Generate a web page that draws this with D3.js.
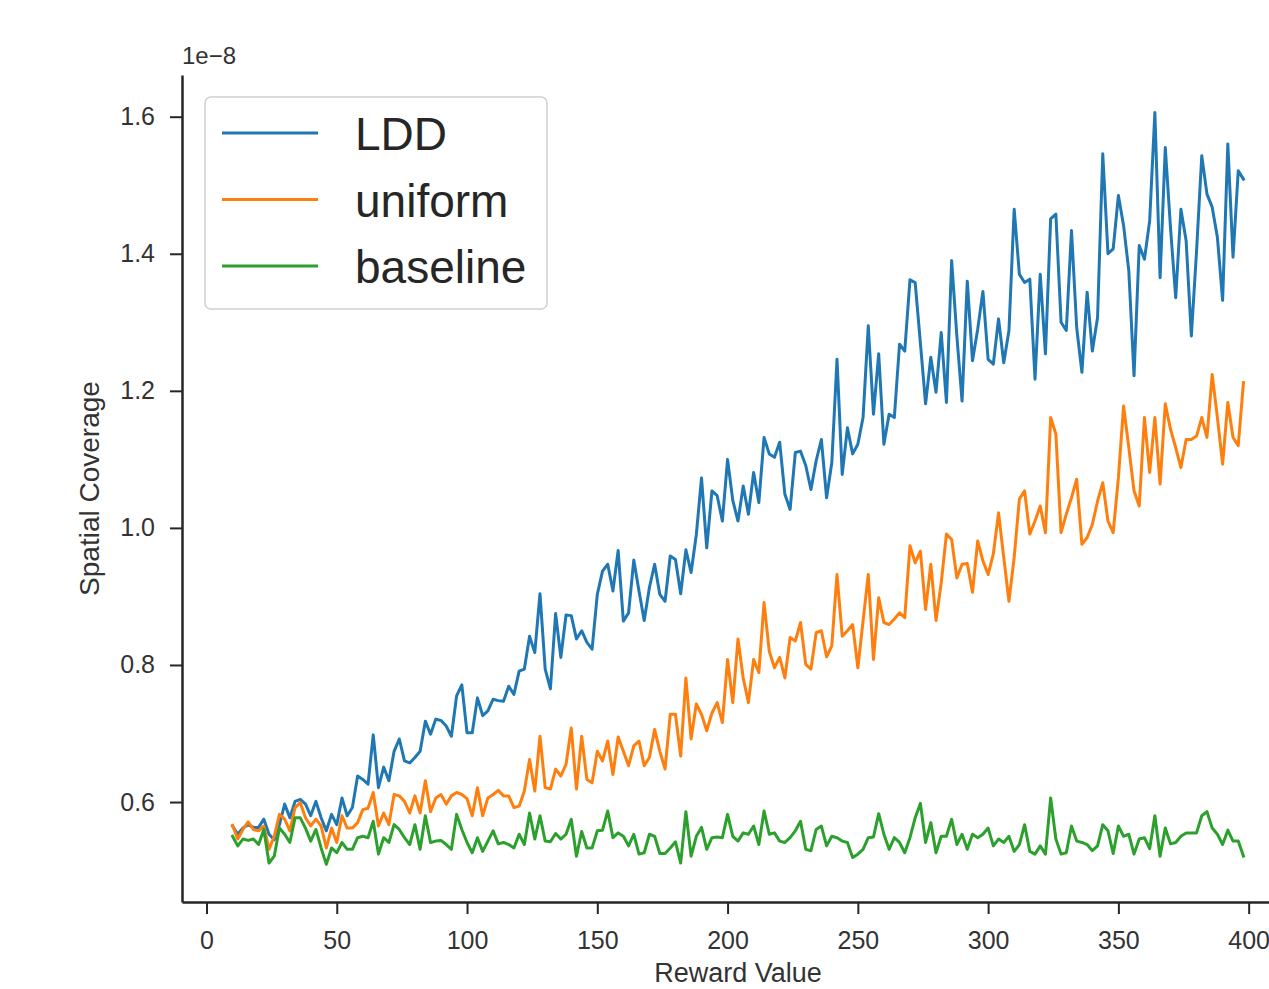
<!DOCTYPE html>
<html>
<head>
<meta charset="utf-8">
<script src="https://cdn.jsdelivr.net/npm/d3@7"></script>
<style>
  html, body { margin: 0; padding: 0; background: #fff; overflow: hidden; }
  svg { display: block; font-family: "Liberation Sans", Arial, sans-serif; }
</style>
</head>
<body>
<svg id="chart"></svg>
<script>
// reward values on the x axis (every 2 from 10 to 398)
const rewardValues = [
  10, 12, 14, 16, 18, 20, 22, 24, 26, 28,
  30, 32, 34, 36, 38, 40, 42, 44, 46, 48,
  50, 52, 54, 56, 58, 60, 62, 64, 66, 68,
  70, 72, 74, 76, 78, 80, 82, 84, 86, 88,
  90, 92, 94, 96, 98, 100, 102, 104, 106, 108,
  110, 112, 114, 116, 118, 120, 122, 124, 126, 128,
  130, 132, 134, 136, 138, 140, 142, 144, 146, 148,
  150, 152, 154, 156, 158, 160, 162, 164, 166, 168,
  170, 172, 174, 176, 178, 180, 182, 184, 186, 188,
  190, 192, 194, 196, 198, 200, 202, 204, 206, 208,
  210, 212, 214, 216, 218, 220, 222, 224, 226, 228,
  230, 232, 234, 236, 238, 240, 242, 244, 246, 248,
  250, 252, 254, 256, 258, 260, 262, 264, 266, 268,
  270, 272, 274, 276, 278, 280, 282, 284, 286, 288,
  290, 292, 294, 296, 298, 300, 302, 304, 306, 308,
  310, 312, 314, 316, 318, 320, 322, 324, 326, 328,
  330, 332, 334, 336, 338, 340, 342, 344, 346, 348,
  350, 352, 354, 356, 358, 360, 362, 364, 366, 368,
  370, 372, 374, 376, 378, 380, 382, 384, 386, 388,
  390, 392, 394, 396, 398
];

// spatial coverage, in units of 1e-8
const lddValues = [
  0.565, 0.553, 0.562, 0.567, 0.563, 0.563, 0.575, 0.553, 0.545, 0.567,
  0.597, 0.577, 0.601, 0.604, 0.597, 0.580, 0.601, 0.577, 0.558, 0.582,
  0.567, 0.606, 0.580, 0.592, 0.638, 0.633, 0.626, 0.698, 0.621, 0.651,
  0.631, 0.674, 0.692, 0.660, 0.657, 0.665, 0.674, 0.718, 0.699, 0.721,
  0.719, 0.711, 0.696, 0.755, 0.771, 0.701, 0.701, 0.752, 0.726, 0.733,
  0.750, 0.748, 0.747, 0.769, 0.757, 0.791, 0.794, 0.842, 0.818, 0.904,
  0.794, 0.765, 0.875, 0.811, 0.873, 0.872, 0.838, 0.850, 0.833, 0.823,
  0.903, 0.937, 0.947, 0.908, 0.967, 0.864, 0.876, 0.953, 0.908, 0.865,
  0.913, 0.947, 0.903, 0.893, 0.959, 0.954, 0.904, 0.968, 0.935, 0.990,
  1.073, 0.971, 1.054, 1.047, 1.010, 1.100, 1.040, 1.010, 1.061, 1.020,
  1.081, 1.037, 1.132, 1.108, 1.103, 1.125, 1.049, 1.027, 1.110, 1.112,
  1.091, 1.056, 1.098, 1.129, 1.044, 1.095, 1.246, 1.078, 1.146, 1.108,
  1.122, 1.161, 1.295, 1.166, 1.254, 1.122, 1.166, 1.161, 1.268, 1.258,
  1.362, 1.358, 1.270, 1.181, 1.249, 1.198, 1.285, 1.183, 1.390, 1.280,
  1.185, 1.360, 1.244, 1.290, 1.345, 1.246, 1.239, 1.305, 1.241, 1.288,
  1.465, 1.370, 1.358, 1.363, 1.217, 1.370, 1.254, 1.451, 1.458, 1.300,
  1.288, 1.434, 1.292, 1.227, 1.344, 1.258, 1.307, 1.546, 1.400, 1.407,
  1.485, 1.441, 1.375, 1.222, 1.412, 1.392, 1.448, 1.606, 1.365, 1.555,
  1.438, 1.336, 1.465, 1.419, 1.280, 1.404, 1.543, 1.487, 1.468, 1.424,
  1.332, 1.560, 1.395, 1.521, 1.509
];

const uniformValues = [
  0.566, 0.546, 0.560, 0.571, 0.560, 0.558, 0.565, 0.531, 0.550, 0.582,
  0.575, 0.558, 0.592, 0.599, 0.577, 0.565, 0.575, 0.565, 0.533, 0.562,
  0.541, 0.580, 0.562, 0.562, 0.570, 0.589, 0.591, 0.614, 0.565, 0.584,
  0.567, 0.611, 0.609, 0.601, 0.584, 0.609, 0.584, 0.631, 0.586, 0.606,
  0.611, 0.597, 0.609, 0.614, 0.611, 0.605, 0.580, 0.621, 0.580, 0.606,
  0.611, 0.617, 0.609, 0.609, 0.592, 0.594, 0.616, 0.662, 0.616, 0.696,
  0.621, 0.619, 0.648, 0.638, 0.655, 0.708, 0.619, 0.696, 0.633, 0.628,
  0.674, 0.660, 0.689, 0.640, 0.695, 0.674, 0.653, 0.682, 0.689, 0.653,
  0.665, 0.706, 0.674, 0.648, 0.728, 0.728, 0.667, 0.781, 0.692, 0.743,
  0.728, 0.704, 0.730, 0.745, 0.716, 0.808, 0.745, 0.838, 0.781, 0.745,
  0.808, 0.789, 0.891, 0.820, 0.796, 0.811, 0.781, 0.840, 0.835, 0.862,
  0.801, 0.794, 0.847, 0.850, 0.812, 0.828, 0.932, 0.842, 0.850, 0.859,
  0.796, 0.864, 0.932, 0.808, 0.898, 0.862, 0.859, 0.867, 0.876, 0.869,
  0.974, 0.949, 0.966, 0.881, 0.947, 0.865, 0.920, 0.991, 0.983, 0.927,
  0.947, 0.948, 0.906, 0.981, 0.952, 0.932, 0.962, 1.022, 0.957, 0.893,
  0.957, 1.042, 1.054, 0.991, 1.010, 1.032, 0.993, 1.161, 1.137, 0.993,
  1.020, 1.044, 1.071, 0.976, 0.986, 1.005, 1.039, 1.066, 1.010, 0.993,
  1.073, 1.178, 1.117, 1.054, 1.032, 1.161, 1.081, 1.161, 1.064, 1.181,
  1.144, 1.117, 1.088, 1.129, 1.129, 1.134, 1.161, 1.132, 1.224, 1.161,
  1.093, 1.183, 1.132, 1.120, 1.212
];

const baselineValues = [
  0.550, 0.536, 0.546, 0.544, 0.546, 0.538, 0.560, 0.511, 0.521, 0.562,
  0.553, 0.541, 0.577, 0.577, 0.562, 0.543, 0.560, 0.533, 0.509, 0.533,
  0.526, 0.541, 0.531, 0.531, 0.548, 0.550, 0.548, 0.572, 0.524, 0.548,
  0.541, 0.567, 0.560, 0.548, 0.538, 0.567, 0.531, 0.580, 0.541, 0.543,
  0.544, 0.538, 0.531, 0.582, 0.560, 0.541, 0.526, 0.548, 0.528, 0.543,
  0.558, 0.539, 0.541, 0.538, 0.533, 0.553, 0.538, 0.584, 0.546, 0.580,
  0.543, 0.542, 0.554, 0.546, 0.553, 0.575, 0.521, 0.557, 0.533, 0.533,
  0.558, 0.559, 0.587, 0.548, 0.555, 0.550, 0.536, 0.553, 0.524, 0.526,
  0.553, 0.550, 0.525, 0.525, 0.533, 0.542, 0.511, 0.586, 0.521, 0.550,
  0.563, 0.531, 0.548, 0.549, 0.548, 0.582, 0.550, 0.543, 0.555, 0.553,
  0.565, 0.538, 0.587, 0.553, 0.555, 0.543, 0.541, 0.548, 0.558, 0.572,
  0.531, 0.529, 0.560, 0.565, 0.536, 0.550, 0.548, 0.543, 0.541, 0.519,
  0.524, 0.531, 0.548, 0.549, 0.583, 0.553, 0.531, 0.548, 0.541, 0.526,
  0.548, 0.577, 0.598, 0.541, 0.570, 0.526, 0.550, 0.550, 0.575, 0.538,
  0.553, 0.531, 0.553, 0.548, 0.553, 0.562, 0.536, 0.546, 0.541, 0.550,
  0.528, 0.538, 0.567, 0.528, 0.524, 0.536, 0.524, 0.606, 0.546, 0.524,
  0.526, 0.565, 0.543, 0.541, 0.538, 0.529, 0.536, 0.567, 0.558, 0.525,
  0.565, 0.550, 0.553, 0.524, 0.546, 0.548, 0.532, 0.580, 0.521, 0.562,
  0.539, 0.541, 0.550, 0.555, 0.555, 0.555, 0.580, 0.586, 0.562, 0.553,
  0.538, 0.559, 0.543, 0.543, 0.521
];

const seriesNames = ["LDD", "uniform", "baseline"];
const seriesColors = ["#1f77b4", "#ff7f0e", "#2ca02c"];
const xTicks = [0, 50, 100, 150, 200, 250, 300, 350, 400];
const yTicks = [0.6, 0.8, 1.0, 1.2, 1.4, 1.6];

const width = 1269;
const height = 989;
const textColor = "#333";

const svg = d3.select("#chart")
  .attr("width", width)
  .attr("height", height);

const series = [lddValues, uniformValues, baselineValues].map((vals, i) => ({
  name: seriesNames[i],
  color: seriesColors[i],
  points: vals.map((v, j) => ({ x: rewardValues[j], y: v }))
}));

// matplotlib style 5% margins around the data
const xExt = d3.extent(rewardValues);
const yExt = d3.extent([...lddValues, ...uniformValues, ...baselineValues]);
const xPad = (xExt[1] - xExt[0]) * 0.05;
const yPad = (yExt[1] - yExt[0]) * 0.05;

// axes box runs past the right edge of the picture
const x = d3.scaleLinear()
  .domain([xExt[0] - xPad, xExt[1] + xPad])
  .range([182, 1294]);

const y = d3.scaleLinear()
  .domain([yExt[0] - yPad, yExt[1] + yPad])
  .range([902, 75]);

// x axis
const xAxis = svg.append("g")
  .attr("transform", `translate(0,${y.range()[0]})`)
  .call(d3.axisBottom(x).tickValues(xTicks).tickFormat(d3.format("d"))
    .tickSize(12).tickSizeOuter(0).tickPadding(17));

// y axis
const yAxis = svg.append("g")
  .attr("transform", `translate(${x.range()[0]},0)`)
  .call(d3.axisLeft(y).tickValues(yTicks).tickFormat(d3.format(".1f"))
    .tickSize(12).tickSizeOuter(0).tickPadding(15));

[xAxis, yAxis].forEach(g => {
  g.select(".domain").attr("stroke", "#262626").attr("stroke-width", 2.5);
  g.selectAll(".tick line").attr("stroke", "#262626").attr("stroke-width", 2);
  g.selectAll(".tick text")
    .attr("fill", textColor)
    .style("font-size", "25px")
    .style("font-family", "'Liberation Sans', Arial, sans-serif");
});

// lines
const line = d3.line()
  .x(d => x(d.x))
  .y(d => y(d.y));

svg.append("g")
  .selectAll("path")
  .data(series)
  .enter()
  .append("path")
  .attr("d", d => line(d.points))
  .attr("fill", "none")
  .attr("stroke", d => d.color)
  .attr("stroke-width", 3)
  .attr("stroke-linejoin", "round")
  .attr("stroke-linecap", "square");

// offset text above the y axis
svg.append("text")
  .attr("x", 182)
  .attr("y", 64)
  .attr("fill", textColor)
  .style("font-size", "24px")
  .text("1e\u22128");

// axis labels
svg.append("text")
  .attr("x", (x.range()[0] + x.range()[1]) / 2)
  .attr("y", 982)
  .attr("text-anchor", "middle")
  .attr("fill", textColor)
  .style("font-size", "27px")
  .text("Reward Value");

svg.append("text")
  .attr("transform", `translate(99,${(y.range()[0] + y.range()[1]) / 2}) rotate(-90)`)
  .attr("text-anchor", "middle")
  .attr("fill", textColor)
  .style("font-size", "28px")
  .text("Spatial Coverage");

// legend
const legend = svg.append("g");

legend.append("rect")
  .attr("x", 205)
  .attr("y", 97)
  .attr("width", 342)
  .attr("height", 212)
  .attr("rx", 6)
  .attr("fill", "#fff")
  .attr("fill-opacity", 0.8)
  .attr("stroke", "#d0d0d0")
  .attr("stroke-width", 1.5);

const legendRows = legend.selectAll("g.row")
  .data(series)
  .enter()
  .append("g")
  .attr("class", "row")
  .attr("transform", (d, i) => `translate(0,${133 + i * 66.5})`);

legendRows.append("line")
  .attr("x1", 222)
  .attr("x2", 318)
  .attr("stroke", d => d.color)
  .attr("stroke-width", 3);

legendRows.append("text")
  .attr("x", 355)
  .attr("y", 17)
  .attr("fill", "#262626")
  .style("font-size", "46px")
  .text(d => d.name);
</script>
</body>
</html>
